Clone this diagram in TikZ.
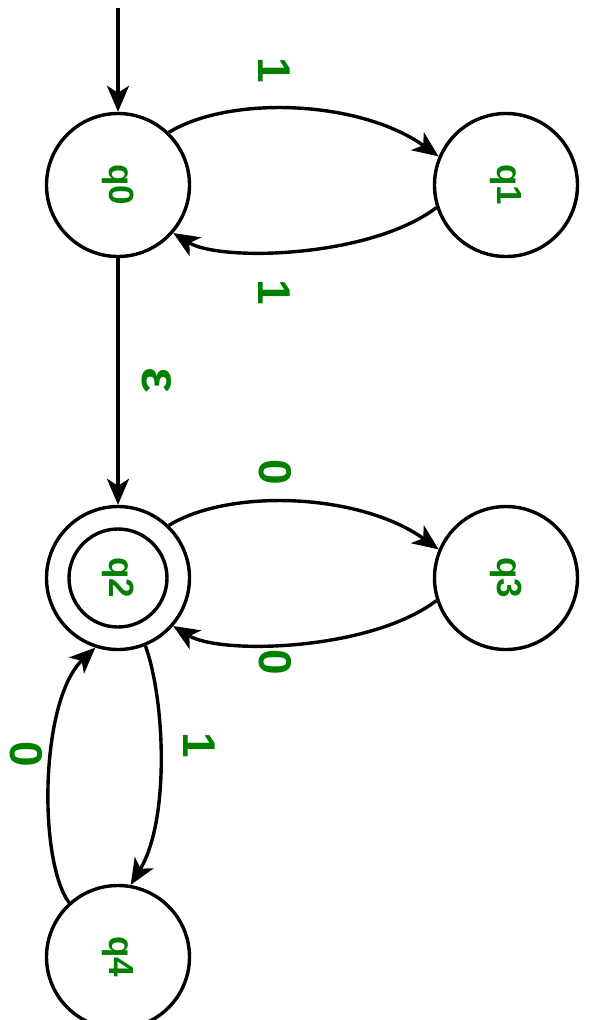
\documentclass[tikz,border=0pt]{standalone}
\usepackage{fontspec}
\setmainfont{Liberation Sans}
\usetikzlibrary{arrows.meta}
\definecolor{lblgreen}{RGB}{0,128,0}
\begin{document}
\begin{tikzpicture}[x=1pt,y=-1pt,
  state/.style={circle,draw,line width=3.4pt,minimum size=143pt,inner sep=0pt,
    font=\fontsize{35}{35}\selectfont\bfseries,text=lblgreen},
  lbl/.style={rotate=-90,text=lblgreen,inner sep=0pt,
    font=\fontsize{46}{46}\selectfont\bfseries},
  trans/.style={line width=3.4pt,-{Stealth[length=26pt,width=22pt,inset=7pt]}}]
\useasboundingbox (0,0) rectangle (592,1020);
\clip (0,0) rectangle (592,1020);

% states
\node[state] (q0) at (118,185) {\rotatebox{-90}{q0}};
\node[state] (q1) at (506,185) {\rotatebox{-90}{q1}};
\node[state] (q2) at (118,578) {\rotatebox{-90}{q2}};
\node[circle,draw,line width=3.4pt,minimum size=98pt] (q2in) at (q2) {};
\node[state] (q3) at (506,578) {\rotatebox{-90}{q3}};
\node[state] (q4) at (118,957) {\rotatebox{-90}{q4}};

% start arrow
\coordinate (start) at (118,8);
\draw[trans] (start) -- (q0.north);

% transitions
\draw[trans] (q0.46) .. controls (230,95) and (360,100) .. (q1.157);
\draw[trans] (q1.198) .. controls (370,258) and (220,262) .. (q0.319);
\draw[trans] (q0.south) -- (q2.north);
\draw[trans] (q2.46) .. controls (230,488) and (360,493) .. (q3.157);
\draw[trans] (q3.198) .. controls (370,651) and (220,655) .. (q2.319);
\draw[trans] (q2.292) .. controls (165,700) and (170,820) .. (q4.80);
\draw[trans] (q4.132) .. controls (38,860) and (40,700) .. (q2.252);

% transition labels
\node[lbl] (l01) at (274,70) {1};
\node[lbl] (l10) at (274,292) {1};
\node[lbl,font=\fontsize{54}{54}\selectfont\bfseries] (l02) at (157,380) {ε};
\node[lbl] (l23) at (275,472) {0};
\node[lbl] (l32) at (275,662) {0};
\node[lbl] (l24) at (199,745) {1};
\node[lbl] (l42) at (26,754) {0};
\end{tikzpicture}
\end{document}
